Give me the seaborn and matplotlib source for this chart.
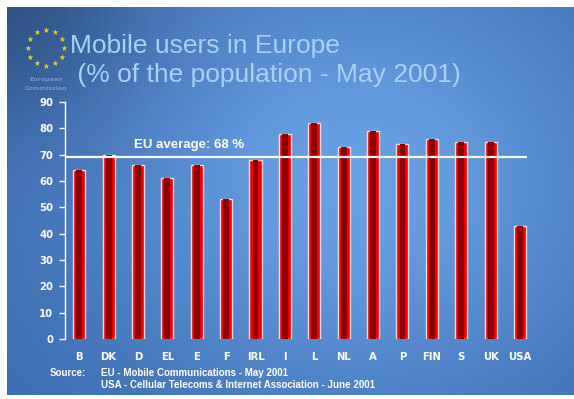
import numpy as np
import pandas as pd
import matplotlib
matplotlib.use("Agg")
import matplotlib.pyplot as plt
import seaborn as sns

# ---- data ----
countries = ["B", "DK", "D", "EL", "E", "F", "IRL", "I", "L", "NL", "A", "P", "FIN", "S", "UK", "USA"]
users_pct = [64, 70, 66, 61, 66, 53, 68, 78, 82, 73, 79, 74, 76, 75, 75, 43]
eu_average = 69
eu_average_label = "EU average: 68 %"
y_ticks = [0, 10, 20, 30, 40, 50, 60, 70, 80, 90]
title_lines = ["Mobile users in Europe", " (% of the population - May 2001)"]
source_lines = ["EU - Mobile Communications - May 2001",
                "USA - Cellular Telecoms & Internet Association - June 2001"]

df = pd.DataFrame({"country": countries, "pct": users_pct})

W, H = 574, 399
fig = plt.figure(figsize=(W / 100, H / 100), dpi=100)
fig.patch.set_facecolor("white")

# ---- background panel ----
bg = fig.add_axes([7 / W, 1 - 395 / H, 1 - 7 / W, (395 - 7) / H])
bg.set_axis_off()
ny, nx = 200, 300
yy, xx = np.mgrid[0:1:ny * 1j, 0:1:nx * 1j]
f = np.exp(-(((xx - 0.62) ** 2) / 0.22 + ((yy - 0.45) ** 2) / 0.35))
f = 0.3 + 0.7 * f
light = np.array([105, 160, 228]) / 255
dark = np.array([40, 84, 152]) / 255
img = dark[None, None, :] * (1 - f[..., None]) + light[None, None, :] * f[..., None]
corner = np.exp(-((xx) ** 2 / 0.05 + (yy) ** 2 / 0.08))
img = img * (1 - 0.25 * corner[..., None])
bg.imshow(img, aspect="auto", extent=[0, 1, 1, 0], interpolation="bilinear")
bg.set_xlim(0, 1)
bg.set_ylim(1, 0)

# ---- EU logo ----
cx, cy, r = 46, 48, 18
ang = np.linspace(0, 2 * np.pi, 12, endpoint=False)
for a in ang:
    fig.text((cx + r * np.cos(a)) / W, 1 - (cy + r * np.sin(a)) / H, "★",
             color="#e6d02a", fontsize=5.5, ha="center", va="center", family="DejaVu Sans")
fig.text(cx / W, 1 - 79 / H, "European", color="#7895c4", fontsize=4.5,
         ha="center", va="center", fontweight="bold")
fig.text(cx / W, 1 - 89 / H, "Commission", color="#7895c4", fontsize=4.5,
         ha="center", va="center", fontweight="bold")

# ---- title ----
fig.text(70 / W, 1 - 46 / H, title_lines[0], color="#a9d0f5", fontsize=19,
         family="Liberation Sans", ha="left", va="center")
fig.text(70 / W, 1 - 75 / H, title_lines[1], color="#a9d0f5", fontsize=19,
         family="Liberation Sans", ha="left", va="center")

# ---- main axes ----
ax = fig.add_axes([64.5 / W, 1 - 339 / H, (534.7 - 64.5) / W, (339 - 102) / H])
ax.set_facecolor("none")
sns.barplot(data=df, x="country", y="pct", ax=ax, color="#f00000",
            edgecolor="#f4d8d8", linewidth=1.0, width=0.41, saturation=1)
sns.barplot(data=df, x="country", y="pct", ax=ax, color="#8a0000",
            linewidth=0, width=0.2, saturation=1)
ax.hlines(eu_average, -0.5, 15.25, color="white", linewidth=1.6, zorder=5)
ax.text(3.75, eu_average + 2.5, eu_average_label, color="white", fontsize=9.5,
        fontweight="bold", ha="center", va="bottom", family="Liberation Sans")

ax.set_xlim(-0.5, 15.5)
ax.set_ylim(0, 90)
ax.set_yticks(y_ticks)
ax.set_xlabel("")
ax.set_ylabel("")
for s in ["top", "right", "bottom"]:
    ax.spines[s].set_visible(False)
ax.spines["left"].set_color("white")
ax.spines["left"].set_linewidth(1.0)
ax.tick_params(axis="y", colors="white", length=4, width=1.0, pad=4)
ax.tick_params(axis="x", length=0, pad=9)
for lab in ax.get_yticklabels() + ax.get_xticklabels():
    lab.set_color("white")
    lab.set_fontweight("bold")
    lab.set_fontsize(7.3)
    lab.set_family("DejaVu Sans")

# ---- source ----
fig.text(50 / W, 1 - 373 / H, "Source:", color="white", fontsize=7,
         fontweight="bold", family="Liberation Sans", va="center")
fig.text(101 / W, 1 - 373 / H, source_lines[0], color="white", fontsize=7,
         fontweight="bold", family="Liberation Sans", va="center")
fig.text(101 / W, 1 - 385 / H, source_lines[1], color="white", fontsize=7,
         fontweight="bold", family="Liberation Sans", va="center")

fig.savefig("out.png", dpi=100, facecolor=fig.get_facecolor())
